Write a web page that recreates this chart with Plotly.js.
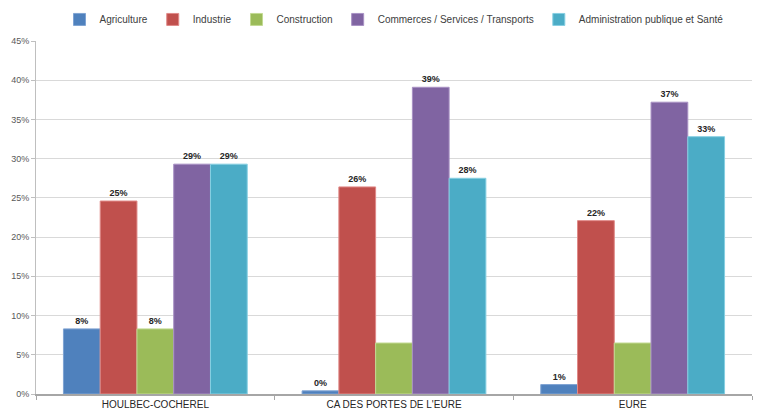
<!DOCTYPE html>
<html>
<head>
<meta charset="utf-8">
<script src="https://cdn.plot.ly/plotly-3.0.1.min.js"></script>
<style>
  html, body { margin: 0; padding: 0; background: #fff; }
  #chart { width: 757px; height: 412px; }
</style>
</head>
<body>
<div id="chart"></div>
<script>
// Territoires comparés
const territoires = ["HOULBEC-COCHEREL", "CA DES PORTES DE L'EURE", "EURE"];

// Part des emplois par secteur (fraction)
const agriculture    = [0.083, 0.004, 0.012];
const industrie      = [0.246, 0.264, 0.221];
const construction   = [0.083, 0.065, 0.065];
const commerces      = [0.293, 0.391, 0.372];
const administration = [0.293, 0.275, 0.328];

// Étiquettes affichées (true = valeur affichée au-dessus de la barre)
const afficheAgri   = [true, true, true];
const afficheIndus  = [true, true, true];
const afficheConstr = [true, false, false];
const afficheComm   = [true, true, true];
const afficheAdmin  = [true, true, true];

const secteurs = [
  { nom: "Agriculture", y: agriculture, show: afficheAgri, color: "#4F81BD", line: "#7FA3D3" },
  { nom: "Industrie", y: industrie, show: afficheIndus, color: "#C0504D", line: "#E08A88" },
  { nom: "Construction", y: construction, show: afficheConstr, color: "#9BBB59", line: "#C3DA93" },
  { nom: "Commerces / Services / Transports", y: commerces, show: afficheComm, color: "#8064A2", line: "#A891C4" },
  { nom: "Administration publique et Santé", y: administration, show: afficheAdmin, color: "#4BACC6", line: "#86CFE2" }
];

const traces = secteurs.map(s => ({
  type: "bar",
  name: s.nom,
  x: territoires,
  y: s.y,
  marker: { color: s.color, line: { color: s.line, width: 1 } },
  texttemplate: s.show.map(v => v ? "%{y:.0%}" : ""),
  textposition: "outside",
  cliponaxis: false,
  textfont: { family: "Liberation Sans, Arial, sans-serif", size: 9, color: "#262626", weight: "bold" },
  hoverinfo: "skip"
}));

const layout = {
  width: 757,
  height: 412,
  margin: { l: 36, r: 5, t: 41, b: 18 },
  paper_bgcolor: "#ffffff",
  plot_bgcolor: "#ffffff",
  barmode: "group",
  bargap: 0.23,
  bargroupgap: 0,
  font: { family: "Liberation Sans, Arial, sans-serif", size: 10, color: "#404040" },
  showlegend: true,
  legend: {
    orientation: "h",
    x: 0.5, xanchor: "center",
    y: 1.02, yanchor: "bottom",
    font: { size: 10, color: "#404040" },
    itemwidth: 30,
    traceorder: "normal"
  },
  xaxis: {
    type: "category",
    showgrid: false,
    showline: true,
    linecolor: "#A6A6A6",
    linewidth: 2,
    ticks: "outside",
    tickson: "boundaries",
    ticklen: 4,
    tickcolor: "#A6A6A6",
    tickfont: { size: 10, color: "#262626" }
  },
  yaxis: {
    range: [0, 0.45],
    dtick: 0.05,
    tickformat: ".0%",
    showgrid: true,
    gridcolor: "#D9D9D9",
    gridwidth: 1,
    zeroline: false,
    showline: true,
    linecolor: "#BFBFBF",
    ticks: "outside",
    ticklen: 4,
    tickcolor: "#BFBFBF",
    tickfont: { size: 9, color: "#595959" }
  }
};

Plotly.newPlot("chart", traces, layout, { displayModeBar: false, staticPlot: true });
</script>
</body>
</html>
